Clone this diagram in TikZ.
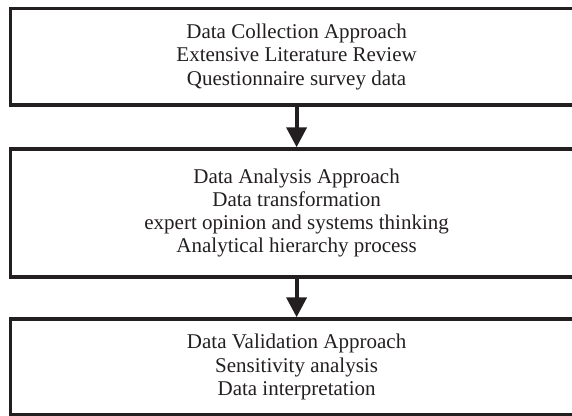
\documentclass[tikz,border=0pt]{standalone}
\usepackage{fontspec}
\setmainfont{Liberation Serif}
\usetikzlibrary{arrows.meta}
\definecolor{ink}{HTML}{231F20}
\begin{document}
\begin{tikzpicture}[x=1pt,y=-1pt,
  stagebox/.style={draw=ink,line width=3.5pt,rectangle,minimum width=572.7pt,
    align=center,font=\fontsize{21}{23.3}\selectfont,text=ink,inner sep=0pt},
  flow/.style={draw=ink,line width=4pt,-{Triangle[width=20pt,length=20pt]}}]
\useasboundingbox (0,0) rectangle (572,415);
\clip (0,0) rectangle (572,415);
\node[stagebox,minimum height=96.5pt] (b1) at (296.6,56.75)
  {Data Collection Approach\\Extensive Literature Review\\Questionnaire survey data};
\node[stagebox,minimum height=128pt] (b2) at (296.6,213)
  {Data Analysis Approach\\Data transformation\\expert opinion and systems thinking\\Analytical hierarchy process};
\node[stagebox,minimum height=96pt] (b3) at (296.6,367)
  {Data Validation Approach\\Sensitivity analysis\\Data interpretation};
\draw[flow] (b1.south) -- (b2.north);
\draw[flow] (b2.south) -- (b3.north);
\end{tikzpicture}
\end{document}
